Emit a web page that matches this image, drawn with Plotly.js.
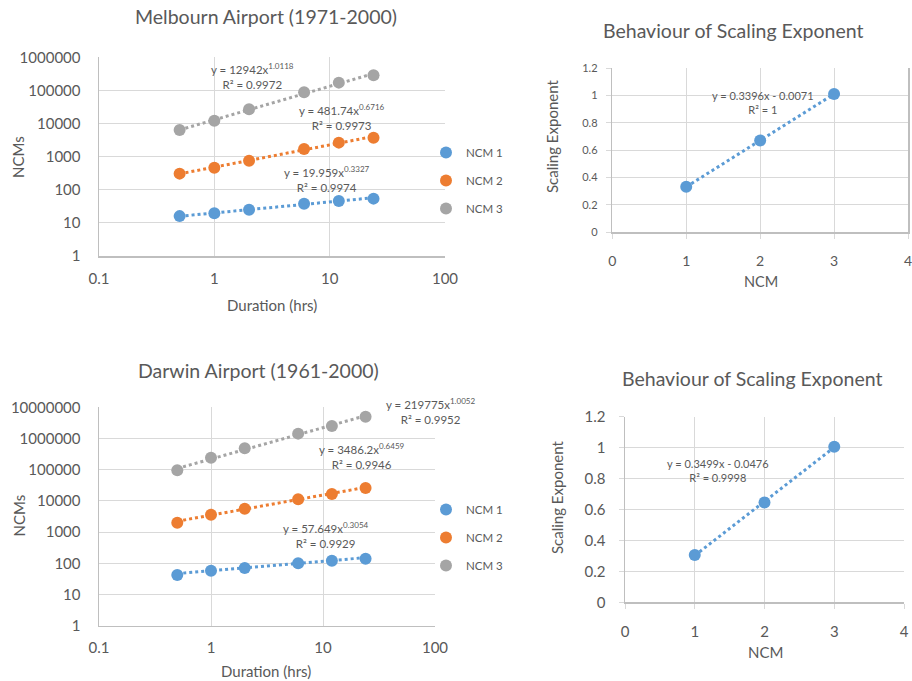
<!DOCTYPE html>
<html><head><meta charset="utf-8">
<script src="https://cdn.plot.ly/plotly-3.0.1.min.js"></script>
<style>html,body{margin:0;padding:0;background:#fff}#chart{width:912px;height:681px}</style>
</head><body><div id="chart"></div>
<script>
// ---------- data ----------
const durations = [0.5, 1, 2, 6, 12, 24];
const seriesNames = ['NCM 1', 'NCM 2', 'NCM 3'];
const seriesColors = ['#5B9BD5', '#ED7D31', '#A5A5A5'];

const melNcm1 = [16, 19.5, 25, 38, 46, 54];
const melNcm2 = [307, 465, 757, 1706, 2650, 3750];
const melNcm3 = [6390, 12200, 26900, 87700, 171800, 286000];
const melFitA = [19.959, 481.74, 12942];
const melFitB = [0.3327, 0.6716, 1.0118];
const melFitR2 = ['0.9974', '0.9973', '0.9972'];

const darNcm1 = [42, 58, 71, 100, 121, 141];
const darNcm2 = [2005, 3620, 5640, 11230, 16650, 25900];
const darNcm3 = [95600, 243000, 485000, 1432000, 2510000, 5020000];
const darFitA = [57.649, 3486.2, 219775];
const darFitB = [0.3054, 0.6459, 1.0052];
const darFitR2 = ['0.9929', '0.9946', '0.9952'];

const ncmIndex = [1, 2, 3];
const melExponents = [0.3327, 0.6716, 1.0118];
const darExponents = [0.3054, 0.6459, 1.0052];
const melLinFit = [0.3396, -0.0071];
const melLinR2 = '1';
const darLinFit = [0.3499, -0.0476];
const darLinR2 = '0.9998';

const logXTickText = ['0.1', '1', '10', '100'];
const melYTickText = ['1', '10', '100', '1000', '10000', '100000', '1000000'];
const darYTickText = ['1', '10', '100', '1000', '10000', '100000', '1000000', '10000000'];
const linXTickText = ['0', '1', '2', '3', '4'];
const linYTickText = ['0', '0.2', '0.4', '0.6', '0.8', '1', '1.2'];

// ---------- helpers ----------
const W = 912, H = 681;
const px = v => v / W;
const py = v => 1 - v / H;
const FONT = 'Lato, "Open Sans", sans-serif';
const TXT = '#595959';
const GRID = '#d9d9d9';
const AXL = '#bfbfbf';

const traces = [];
function addPowerPanel(seriesList, fitA, fitB, xa, ya, legendId, groupPrefix) {
  seriesList.forEach((vals, i) => {
    const x0 = durations[0], x1 = durations[durations.length - 1];
    traces.push({
      x: [x0, x1], y: [fitA[i] * Math.pow(x0, fitB[i]), fitA[i] * Math.pow(x1, fitB[i])],
      xaxis: xa, yaxis: ya, mode: 'lines', showlegend: false, hoverinfo: 'skip',
      line: {color: seriesColors[i], width: 3, dash: 'dot'}
    });
  });
  seriesList.forEach((vals, i) => {
    traces.push({
      x: durations, y: vals, xaxis: xa, yaxis: ya, mode: 'markers', name: seriesNames[i],
      legend: legendId, legendgroup: groupPrefix + i,
      marker: {color: seriesColors[i], size: 12}
    });
  });
}
addPowerPanel([melNcm1, melNcm2, melNcm3], melFitA, melFitB, 'x', 'y', 'legend', 'm');
addPowerPanel([darNcm1, darNcm2, darNcm3], darFitA, darFitB, 'x2', 'y2', 'legend2', 'd');

function addLinPanel(vals, fit, xa, ya) {
  const x0 = ncmIndex[0], x1 = ncmIndex[ncmIndex.length - 1];
  traces.push({
    x: [x0, x1], y: [fit[0] * x0 + fit[1], fit[0] * x1 + fit[1]],
    xaxis: xa, yaxis: ya, mode: 'lines', showlegend: false, hoverinfo: 'skip',
    line: {color: seriesColors[0], width: 3, dash: 'dot'}
  });
  traces.push({
    x: ncmIndex, y: vals, xaxis: xa, yaxis: ya, mode: 'markers', showlegend: false,
    marker: {color: seriesColors[0], size: 12}
  });
}
addLinPanel(melExponents, melLinFit, 'x3', 'y3');
addLinPanel(darExponents, darLinFit, 'x4', 'y4');

function logAxis(domPx, tickText, fontSize, standoff) {
  return {
    type: 'log', domain: domPx, autorange: false,
    tickvals: tickText.map(Number), ticktext: tickText,
    showgrid: true, gridcolor: GRID, gridwidth: 1,
    showline: true, linecolor: AXL, linewidth: 1.5, zeroline: false,
    ticks: '', ticklabelstandoff: standoff, ticklabeloverflow: 'allow',
    tickfont: {family: FONT, size: fontSize, color: TXT}, fixedrange: true
  };
}
function linAxis(domPx, tickText, fontSize, standoff) {
  return {
    domain: domPx, autorange: false,
    tickvals: tickText.map(Number), ticktext: tickText,
    showgrid: true, gridcolor: GRID, gridwidth: 1,
    showline: true, linecolor: AXL, linewidth: 1.5, zeroline: false,
    ticks: 'outside', ticklen: 5, tickcolor: GRID, ticklabelstandoff: standoff,
    ticklabeloverflow: 'allow',
    tickfont: {family: FONT, size: fontSize, color: TXT}, fixedrange: true
  };
}

const xa1 = logAxis([px(99), px(445)], logXTickText, 15, 8); xa1.range = [-1, 2]; xa1.anchor = 'y';
const ya1 = logAxis([py(256), py(57.3)], melYTickText, 15, 14); ya1.range = [0, 6]; ya1.anchor = 'x';
const xa2 = logAxis([px(99), px(435)], logXTickText, 15, 8); xa2.range = [-1, 2]; xa2.anchor = 'y2';
const ya2 = logAxis([py(625.7), py(407.3)], darYTickText, 15, 14); ya2.range = [0, 7]; ya2.anchor = 'x2';
const xa3 = linAxis([px(612.3), px(908)], linXTickText, 14, 10); xa3.range = [0, 4]; xa3.anchor = 'y3';
const ya3 = linAxis([py(232.3), py(68.3)], linYTickText, 11, 6); ya3.range = [0, 1.2]; ya3.anchor = 'x3';
ya3.mirror = true;
const xa4 = linAxis([px(625), px(904)], linXTickText, 15, 10); xa4.range = [0, 4]; xa4.anchor = 'y4';
const ya4 = linAxis([py(602.3), py(416.7)], linYTickText, 15, 10); ya4.range = [0, 1.2]; ya4.anchor = 'x4';

function ann(text, cx, cy, size, extra) {
  return Object.assign({
    text: text, x: px(cx), y: py(cy), xref: 'paper', yref: 'paper',
    xanchor: 'center', yanchor: 'middle', showarrow: false, align: 'center',
    font: {family: FONT, size: size, color: TXT}
  }, extra || {});
}
const powEq = (a, b, r2) => 'y = ' + a + 'x<sup>' + b + '</sup><br>R² = ' + r2;
const linEq = (f, r2) => 'y = ' + f[0] + 'x ' + (f[1] < 0 ? '- ' : '+ ') + Math.abs(f[1]) + '<br>R² = ' + r2;

const annotations = [
  ann('Melbourn Airport (1971-2000)', 266, 17, 19.5),
  ann('Darwin Airport (1961-2000)', 258, 370, 19.5),
  ann('Behaviour of Scaling Exponent', 733, 30, 19.5),
  ann('Behaviour of Scaling Exponent', 752, 378, 19.5),
  ann('Duration (hrs)', 272, 305, 15),
  ann('Duration (hrs)', 266, 670.5, 15),
  ann('NCMs', 18, 157, 15, {textangle: -90}),
  ann('NCMs', 18, 515.5, 15, {textangle: -90}),
  ann('NCM', 761, 281.5, 14.5),
  ann('NCM', 765, 652, 15),
  ann('Scaling Exponent', 552, 137, 15, {textangle: -90}),
  ann('Scaling Exponent', 557, 498, 15, {textangle: -90}),
  ann(powEq(melFitA[2], melFitB[2], melFitR2[2]), 252, 76, 11.5),
  ann(powEq(melFitA[1], melFitB[1], melFitR2[1]), 342, 117, 11.5),
  ann(powEq(melFitA[0], melFitB[0], melFitR2[0]), 326.5, 179, 11.5),
  ann(powEq(darFitA[2], darFitB[2], darFitR2[2]), 430.5, 411, 11.5),
  ann(powEq(darFitA[1], darFitB[1], darFitR2[1]), 361.7, 456, 11.5),
  ann(powEq(darFitA[0], darFitB[0], darFitR2[0]), 326, 535, 11.5),
  ann(linEq(melLinFit, melLinR2), 763, 102, 11),
  ann(linEq(darLinFit, darLinR2), 717.5, 470.5, 11)
];

const legendBase = {
  xanchor: 'left', yanchor: 'top', bgcolor: 'rgba(0,0,0,0)', borderwidth: 0,
  font: {family: FONT, size: 11.5, color: TXT}, itemsizing: 'trace',
  traceorder: 'grouped', tracegroupgap: 9, itemclick: false, itemdoubleclick: false
};

const layout = {
  width: W, height: H, margin: {l: 0, r: 0, t: 0, b: 0},
  paper_bgcolor: '#ffffff', plot_bgcolor: '#ffffff',
  font: {family: FONT, color: TXT},
  xaxis: xa1, yaxis: ya1, xaxis2: xa2, yaxis2: ya2,
  xaxis3: xa3, yaxis3: ya3, xaxis4: xa4, yaxis4: ya4,
  legend: Object.assign({x: px(426), y: py(138)}, legendBase),
  legend2: Object.assign({x: px(426), y: py(495)}, legendBase),
  annotations: annotations, showlegend: true
};

Plotly.newPlot('chart', traces, layout, {staticPlot: true, displayModeBar: false});
</script>
</body></html>
